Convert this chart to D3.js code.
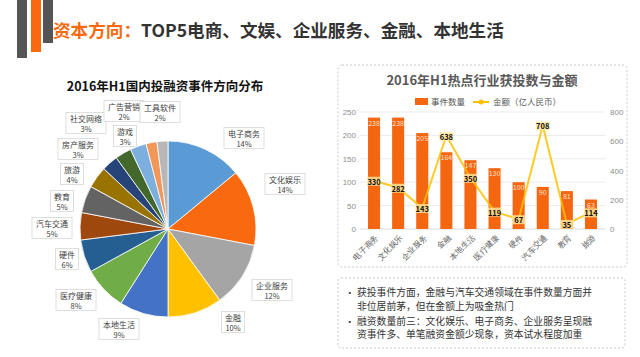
<!DOCTYPE html>
<html><head><meta charset="utf-8">
<script src="https://cdn.jsdelivr.net/npm/d3@7/dist/d3.min.js"></script>
<style>
html,body{margin:0;padding:0;background:#fff;}
svg{display:block;font-family:"Noto Sans CJK SC","Noto Sans",sans-serif;}
</style></head>
<body>
<svg id="c" width="640" height="357"></svg>
<script>
// ---- data ----
const pieCategories = ["电子商务","文化娱乐","企业服务","金融","本地生活","医疗健康","硬件","汽车交通","教育","旅游","房产服务","社交网络","游戏","广告营销","工具软件"];
const piePercents = [14,14,12,10,9,8,6,5,5,4,3,3,3,2,2];
const barCategories = ["电子商务","文化娱乐","企业服务","金融","本地生活","医疗健康","硬件","汽车交通","教育","旅游"];
const eventCounts = [238,238,205,164,147,130,100,90,81,63];
const amounts = [330,282,143,638,350,119,67,708,35,114];
const leftTicks = [0,50,100,150,200,250];
const rightTicks = [0,200,400,600,800];
const titleHighlight = "资本方向：";
const titleRest = "TOP5电商、文娱、企业服务、金融、本地生活";
const pieTitle = "2016年H1国内投融资事件方向分布";
const barTitle = "2016年H1热点行业获投数与金额";
const legendLabels = ["事件数量","金额（亿人民币）"];
const notes = [
  ["获投事件方面，金融与汽车交通领域在事件数量方面并","非位居前茅，但在金额上为吸金热门"],
  ["融资数量前三：文化娱乐、电子商务、企业服务呈现融","资事件多、单笔融资金额少现象，资本试水程度加重"]
];

// ---- layout / style ----
const pieColors = ["#5B9BD5","#F96A10","#A5A5A5","#FFC000","#4472C4","#70AD47","#255E91","#9E480E","#636363","#997300","#264478","#43682B","#7CAFDD","#F1975A","#B7B7B7"];
// label box centres relative to pie centre
const pieLabelOffsets = [[76,-91],[117,-45],[104,61],[65,93],[-49,100],[-92,71],[-101,30],[-116,-1],[-106,-28],[-96,-55],[-90,-80],[-82,-106],[-43,-93],[-44,-118],[-8,-117]];

const svg = d3.select("#c");

// decorative bars
svg.append("rect").attr("x",17).attr("y",0).attr("width",10).attr("height",58).attr("fill","#555");
svg.append("rect").attr("x",31).attr("y",0).attr("width",10).attr("height",52).attr("fill","#F96A10");
svg.append("rect").attr("x",43).attr("y",0).attr("width",10).attr("height",43).attr("fill","#555");

// main title
const t = svg.append("text").attr("x",53).attr("y",37).attr("font-size",17.6).attr("font-weight","bold");
t.append("tspan").attr("fill","#F96A10").text(titleHighlight);
t.append("tspan").attr("fill","#333").text(titleRest);

// ---- pie ----
const pcx = 168, pcy = 229, pr = 88;
svg.append("text").attr("x",165).attr("y",91).attr("text-anchor","middle")
  .attr("font-size",12.5).attr("font-weight","bold").attr("fill","#111").text(pieTitle);
const pie = d3.pie().sort(null).value(d=>d)(piePercents);
const arc = d3.arc().innerRadius(0).outerRadius(pr);
const pg = svg.append("g").attr("transform",`translate(${pcx},${pcy})`);
pg.selectAll("path").data(pie).join("path")
  .attr("d",arc).attr("fill",(d,i)=>pieColors[i]).attr("stroke","#fff").attr("stroke-width",0.8);
pie.forEach((d,i)=>{
  const [dx,dy] = pieLabelOffsets[i];
  const name = pieCategories[i];
  const w = name.length*8.5+6, h = 21;
  const g = pg.append("g").attr("transform",`translate(${dx},${dy})`);
  g.append("rect").attr("x",-w/2).attr("y",-h/2).attr("width",w).attr("height",h)
    .attr("fill","#fff").attr("stroke","#d0d0d0").attr("stroke-width",0.7);
  g.append("text").attr("y",-1).attr("text-anchor","middle").attr("font-size",8).attr("fill","#404040").text(name);
  g.append("text").attr("y",8.5).attr("text-anchor","middle").attr("font-size",7.5).attr("fill","#404040").text(piePercents[i]+"%");
});

// ---- bar/line chart ----
svg.append("rect").attr("x",338).attr("y",65).attr("width",289).attr("height",202).attr("rx",4)
  .attr("fill","none").attr("stroke","#c8c8c8").attr("stroke-dasharray","2,2");
svg.append("text").attr("x",482).attr("y",85).attr("text-anchor","middle")
  .attr("font-size",13).attr("font-weight","bold").attr("fill","#595959").text(barTitle);

// legend
svg.append("rect").attr("x",415).attr("y",98).attr("width",13).attr("height",7).attr("fill","#F4660F");
svg.append("text").attr("x",431).attr("y",105).attr("font-size",8.5).attr("fill","#595959").text(legendLabels[0]);
svg.append("line").attr("x1",473).attr("x2",489).attr("y1",102).attr("y2",102).attr("stroke","#FFC000").attr("stroke-width",2);
svg.append("circle").attr("cx",481).attr("cy",102).attr("r",2.5).attr("fill","#FFC000");
svg.append("text").attr("x",493).attr("y",105).attr("font-size",8.5).attr("fill","#595959").text(legendLabels[1]);

const x = d3.scaleBand().domain(barCategories).range([362,603]).paddingInner(0.5).paddingOuter(0.25);
const yL = d3.scaleLinear().domain([0,250]).range([229,112]);
const yR = d3.scaleLinear().domain([0,800]).range([229,112]);

// gridlines
svg.append("g").selectAll("line").data(leftTicks).join("line")
  .attr("x1",360).attr("x2",605).attr("y1",d=>yL(d)).attr("y2",d=>yL(d))
  .attr("stroke",d=>d===0?"#d0d0d0":"#e6e6e6").attr("stroke-width",0.8);

// axes
const axL = svg.append("g").attr("transform","translate(358,0)")
  .call(d3.axisLeft(yL).tickValues(leftTicks).tickSize(0).tickPadding(2));
axL.select(".domain").remove();
axL.selectAll("text").attr("font-size",8).attr("fill","#8c8c8c");
const axR = svg.append("g").attr("transform","translate(608,0)")
  .call(d3.axisRight(yR).tickValues(rightTicks).tickSize(0).tickPadding(2));
axR.select(".domain").remove();
axR.selectAll("text").attr("font-size",8).attr("fill","#8c8c8c");

const axB = svg.append("g").attr("transform","translate(0,231)")
  .call(d3.axisBottom(x).tickSize(0).tickPadding(0));
axB.select(".domain").remove();
axB.selectAll("text").attr("font-size",8).attr("fill","#595959")
  .attr("text-anchor","end").attr("dy","0.35em")
  .attr("transform","translate(3,5) rotate(-45)");

// bars
svg.append("g").selectAll("rect").data(eventCounts).join("rect")
  .attr("x",(d,i)=>x(barCategories[i])).attr("width",x.bandwidth())
  .attr("y",d=>yL(d)).attr("height",d=>yL(0)-yL(d)).attr("fill","#F4660F");
svg.append("g").selectAll("text").data(eventCounts).join("text")
  .attr("x",(d,i)=>x(barCategories[i])+x.bandwidth()/2).attr("y",d=>yL(d)+8)
  .attr("text-anchor","middle").attr("font-size",7).attr("fill","#fde3d3").text(d=>d);

// line
const line = d3.line().x((d,i)=>x(barCategories[i])+x.bandwidth()/2).y(d=>yR(d));
svg.append("path").datum(amounts).attr("d",line).attr("fill","none")
  .attr("stroke","#FFC000").attr("stroke-width",2).attr("stroke-opacity",0.85);
const lg = svg.append("g").selectAll("g").data(amounts).join("g")
  .attr("transform",(d,i)=>`translate(${x(barCategories[i])+x.bandwidth()/2},${yR(d)})`);
lg.append("rect").attr("x",-7).attr("y",-4).attr("width",14).attr("height",9).attr("fill","#FFE9A0").attr("opacity",0.8);
lg.append("text").attr("y",4).attr("text-anchor","middle").attr("font-size",7.5).attr("font-weight","bold")
  .attr("fill","#111").text(d=>d);

// ---- notes box ----
svg.append("rect").attr("x",338).attr("y",278).attr("width",287).attr("height",70).attr("rx",3)
  .attr("fill","none").attr("stroke","#c8c8c8").attr("stroke-dasharray","2,2");
let yy = 296;
notes.forEach(p=>{
  svg.append("text").attr("x",345).attr("y",yy).attr("font-size",9.5).attr("fill","#333").text("•");
  p.forEach((ln,j)=>{
    svg.append("text").attr("x",357).attr("y",yy).attr("font-size",9.8).attr("fill","#333").text(ln);
    yy += j===0 ? 13.5 : 15;
  });
});
</script>
</body></html>
